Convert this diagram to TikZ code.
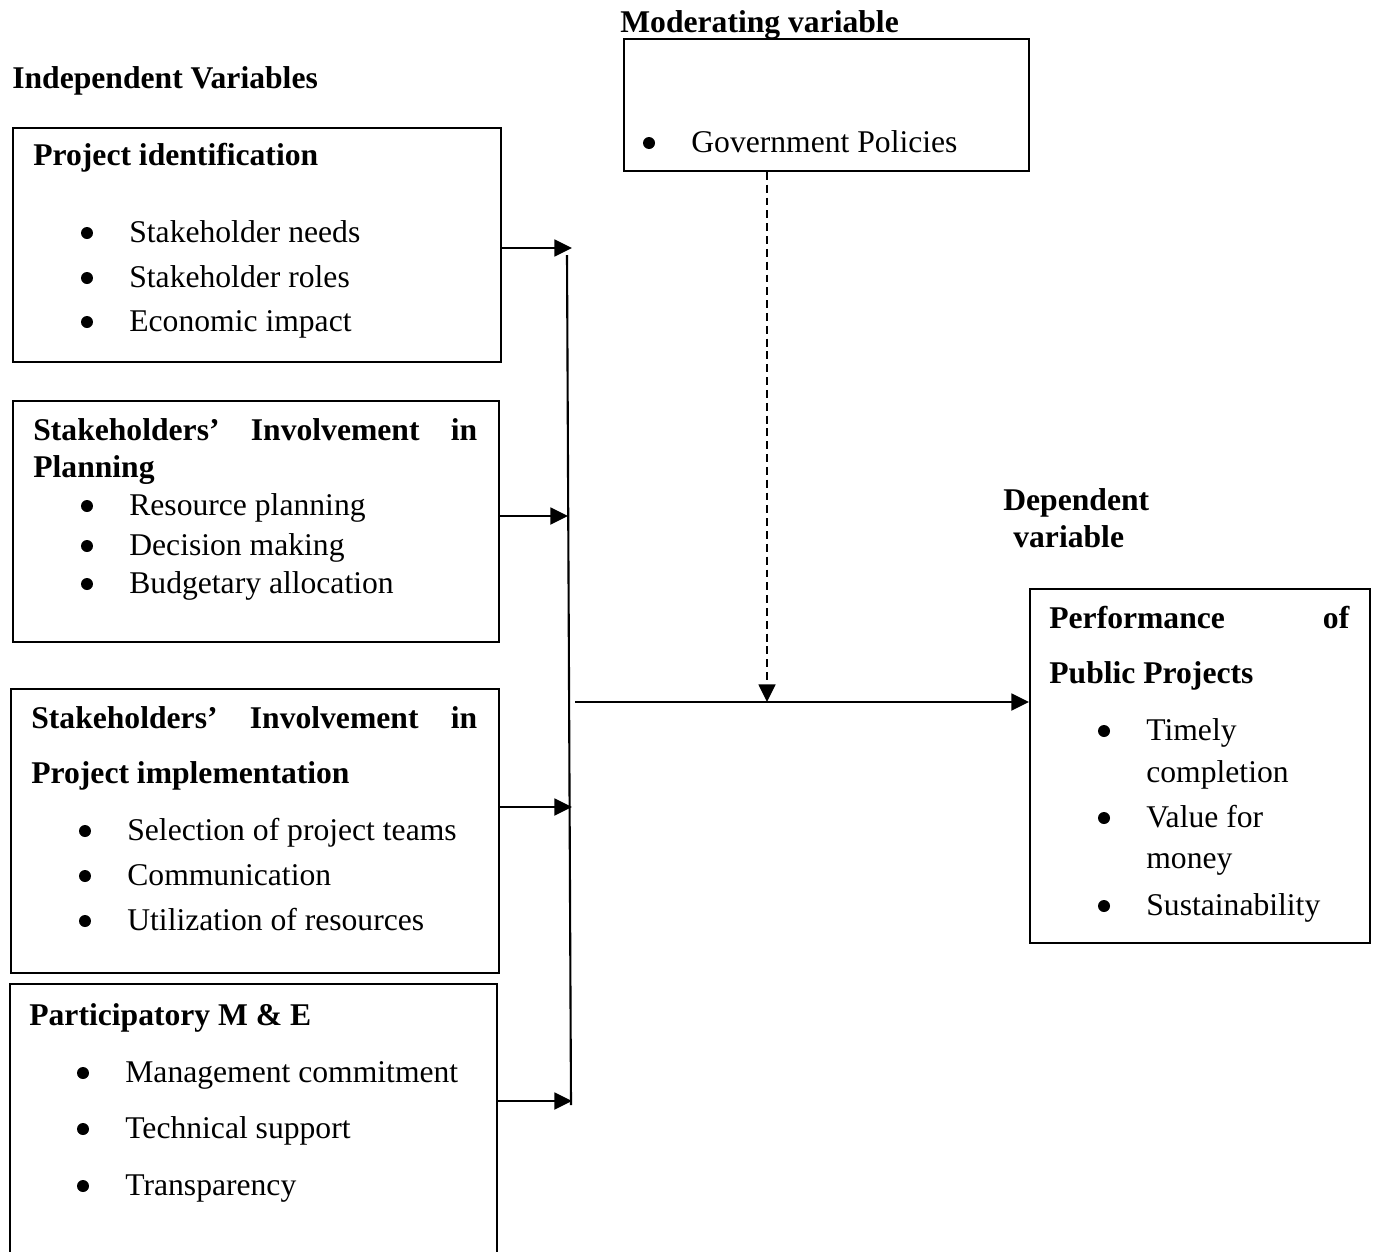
\documentclass[tikz,border=0pt]{standalone}
\usepackage{fontspec}
\setmainfont{Liberation Serif}
\usetikzlibrary{arrows.meta, positioning}
\tikzset{
	boxnode/.style={
			draw,
			line width=1.1pt,
			anchor=north west,
			inner sep=0pt
		},
	opennode/.style={
			boxnode,
			draw=none
		},
	headtext/.style={
			anchor=base west,
			inner sep=0pt,
			font=\fontsize{18}{22}\selectfont\bfseries
		},
	itemtext/.style={
			anchor=base west,
			inner sep=0pt,
			font=\fontsize{18}{22}\selectfont
		},
	linkarrow/.style={
			line width=1.6pt,
			-{Triangle[length=10pt, width=9.5pt]}
		},
	modarrow/.style={
			linkarrow,
			line width=1.3pt,
			dash pattern=on 4.5pt off 2.8pt
		},
	busline/.style={
			line width=1.2pt
		}
}

\begin{document}
\begin{tikzpicture}[x=0.02cm, y=-0.02cm]
\useasboundingbox (0,0) rectangle (1376,1251);

\node[headtext] (indep) at (12,88) {Independent Variables};

% project identification
\node[boxnode, minimum width=9.76cm, minimum height=4.68cm] (b1) at (12,127) {};
\node[headtext] (h1) at (33,165) {Project identification};
\node[itemtext] (i11) at (129,242) {Stakeholder needs};
\node[itemtext] (i12) at (129,287) {Stakeholder roles};
\node[itemtext] (i13) at (129,331) {Economic impact};

% planning
\node[boxnode, minimum width=9.72cm, minimum height=4.82cm] (b2) at (12,400) {};
\node[headtext] (h2a) at (33,440) {\makebox[8.88cm][s]{Stakeholders’ Involvement in}};
\node[headtext] (h2b) at (33,477) {Planning};
\node[itemtext] (i21) at (129,515) {Resource planning};
\node[itemtext] (i22) at (129,555) {Decision making};
\node[itemtext] (i23) at (129,593) {Budgetary allocation};

% implementation
\node[boxnode, minimum width=9.76cm, minimum height=5.68cm] (b3) at (10,688) {};
\node[headtext] (h3a) at (31,728) {\makebox[8.92cm][s]{Stakeholders’ Involvement in}};
\node[headtext] (h3b) at (31,783) {Project implementation};
\node[itemtext] (i31) at (127,840) {Selection of project teams};
\node[itemtext] (i32) at (127,885) {Communication};
\node[itemtext] (i33) at (127,930) {Utilization of resources};

% M & E (runs off the page)
\node[opennode, minimum width=9.70cm, minimum height=5.34cm] (b4) at (10,984) {};
\draw[line width=1.1pt] (b4.south west) -- (b4.north west) -- (b4.north east) -- (b4.south east);
\node[headtext] (h4) at (29,1025) {Participatory M \& E};
\node[itemtext] (i41) at (125,1082) {Management commitment};
\node[itemtext] (i42) at (125,1138) {Technical support};
\node[itemtext] (i43) at (125,1195) {Transparency};

% moderating
\node[boxnode, minimum width=8.10cm, minimum height=2.64cm] (mod) at (623,38) {};
\node[headtext] (modt) at (620,32) {Moderating variable};
\node[itemtext] (m1) at (691,152) {Government Policies};

% dependent
\node[headtext] (dept1) at (1003,510) {Dependent};
\node[headtext] (dept2) at (1013,547) {variable};
\node[boxnode, minimum width=6.80cm, minimum height=7.08cm] (dep) at (1029,588) {};
\node[headtext] (hd1) at (1049,628) {\makebox[6cm][s]{Performance of}};
\node[headtext] (hd2) at (1049,683) {Public Projects};
\node[itemtext] (d1) at (1146,740) {Timely};
\node[itemtext] (d1b) at (1146,782) {completion};
\node[itemtext] (d2) at (1146,827) {Value for};
\node[itemtext] (d2b) at (1146,868) {money};
\node[itemtext] (d3) at (1146,915) {Sustainability};

% bullets
\foreach \n in {i11,i12,i13,i21,i22,i23,i31,i32,i33,i41,i42,i43,m1,d1,d2,d3}
  \fill ([shift={(-42,-9)}]\n.base west) circle (0.12cm);

% connectors
\coordinate (j1) at (572,248);
\coordinate (j2) at (568,516);
\coordinate (j3) at (572,807);
\coordinate (j4) at (572,1101);
\coordinate (vtop) at (567,255);
\coordinate (vbot) at (571,1105);
\coordinate (hstart) at (575,702);
\coordinate (mtip) at (767,702);

\draw[linkarrow] (b1.east |- j1) -- (j1);
\draw[linkarrow] (b2.east |- j2) -- (j2);
\draw[linkarrow] (b3.east |- j3) -- (j3);
\draw[linkarrow] (b4.east |- j4) -- (j4);
\draw[busline] (vtop) -- (vbot);
\draw[linkarrow] (hstart) -- (dep.west |- hstart);
\draw[modarrow] (mod.south -| mtip) -- (mtip);
\end{tikzpicture}
\end{document}
